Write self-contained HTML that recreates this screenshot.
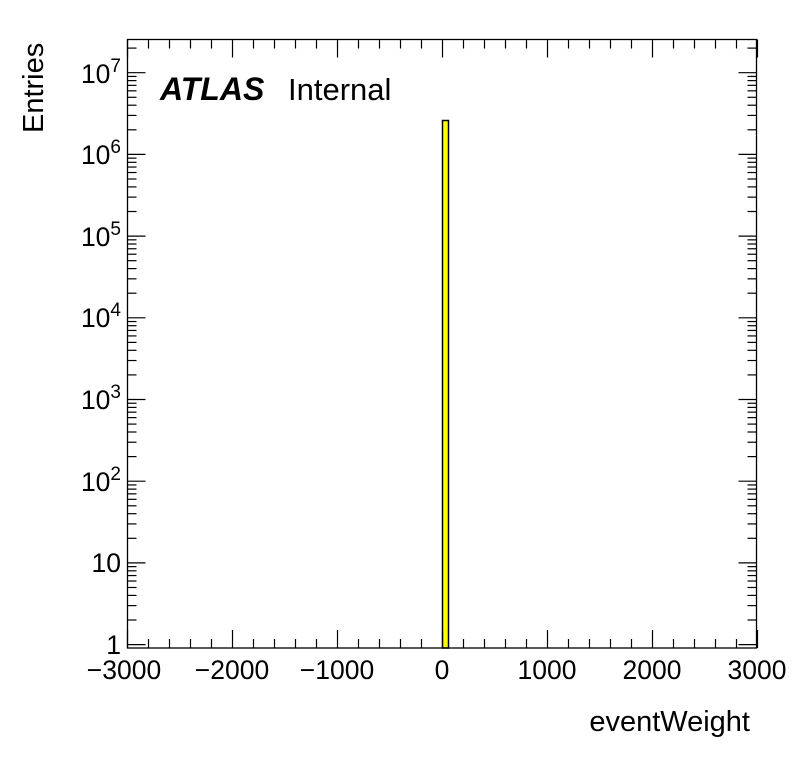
<!DOCTYPE html>
<html><head><meta charset="utf-8"><style>
html,body{margin:0;padding:0;background:#fff;}
svg{display:block;font-family:"Liberation Sans",Arial,sans-serif;}
</style></head><body>
<svg id="s" width="796" height="772" viewBox="0 0 796 772" xmlns="http://www.w3.org/2000/svg">
<rect x="0" y="0" width="796" height="772" fill="#fff"/>
<rect x="442.5" y="120.5" width="6" height="527.5" fill="#ffff00" stroke="#000" stroke-width="1.5"/>
<rect x="127.5" y="39.5" width="629" height="608.5" fill="none" stroke="#000" stroke-width="1.3"/>
<g id="ticks" stroke="#000" stroke-width="1.2"></g>
<g font-size="26.5" fill="#000">
<text x="124" y="679" text-anchor="middle">−3000</text>
<text x="232" y="679" text-anchor="middle">−2000</text>
<text x="337" y="679" text-anchor="middle">−1000</text>
<text x="442" y="679" text-anchor="middle">0</text>
<text x="547" y="679" text-anchor="middle">1000</text>
<text x="652" y="679" text-anchor="middle">2000</text>
<text x="757" y="679" text-anchor="middle">3000</text>
<text x="750" y="731" text-anchor="end" font-size="29">eventWeight</text>
<text transform="translate(43,133) rotate(-90)" text-anchor="start" font-size="29">Entries</text>
<text x="121" y="654" text-anchor="end">1</text>
<text x="121" y="572" text-anchor="end">10</text>
<text x="121" y="491" text-anchor="end">10<tspan dy="-11" font-size="19">2</tspan></text>
<text x="121" y="409" text-anchor="end">10<tspan dy="-11" font-size="19">3</tspan></text>
<text x="121" y="327" text-anchor="end">10<tspan dy="-11" font-size="19">4</tspan></text>
<text x="121" y="246" text-anchor="end">10<tspan dy="-11" font-size="19">5</tspan></text>
<text x="121" y="164" text-anchor="end">10<tspan dy="-11" font-size="19">6</tspan></text>
<text x="121" y="83" text-anchor="end">10<tspan dy="-11" font-size="19">7</tspan></text>
<text x="160" y="100" font-size="32" font-weight="bold" font-style="italic">ATLAS</text>
<text x="288" y="100" font-size="31">Internal</text>
</g>
</svg>
<script>
var g=document.getElementById('ticks'),h='';
function L(a,b,c,d){h+='<line x1="'+a+'" y1="'+b+'" x2="'+c+'" y2="'+d+'"/>';}
var L0=127.5,R=756.5,T=39.5,B=648;
for(var v=-3000;v<=3000;v+=200){var x=127.5+(v+3000)*0.105;var len=(v%1000==0)?18:9;L(x,B,x,B-len);L(x,T,x,T+len);}
function yv(v){return 72.7-(Math.log10(v)-7)*81.7;}
for(var e=0;e<=7;e++){for(var m=1;m<=9;m++){var y=yv(m*Math.pow(10,e));if(y<T||y>B)continue;var len=(m==1)?18:9;L(L0,y,L0+len,y);L(R,y,R-len,y);}}
g.innerHTML=h;
</script>
</body></html>
